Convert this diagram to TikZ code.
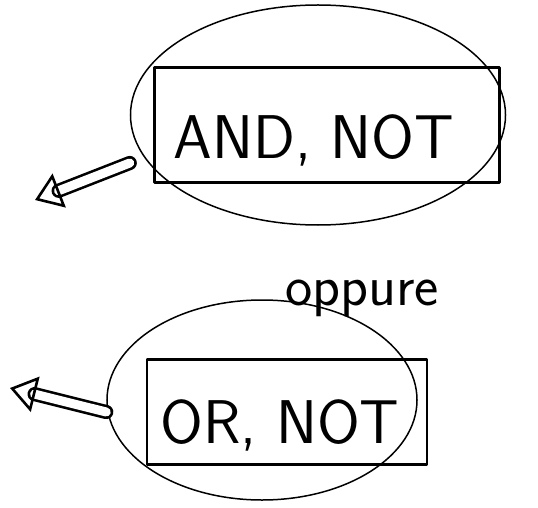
\documentclass[tikz,border=0pt]{standalone}
\usetikzlibrary{arrows.meta,shapes.geometric}
\begin{document}
\begin{tikzpicture}[x=1bp,y=-1bp,
  stroke/.style={line width=2.6bp, line cap=round, line join=round},
  thin stroke/.style={line width=1.5bp},
  blob/.style={ellipse, draw, thin stroke, inner sep=0pt},
  opbox/.style={rectangle, draw, stroke, inner sep=0pt},
  optext/.style={font=\sffamily\fontsize{62}{64}\selectfont, inner sep=0pt},
  bigarrow/.style={stroke, double, double distance=9bp, -{Triangle[open,length=26bp,width=36bp]}},
  note/.style={font=\sffamily\fontsize{58}{60}\selectfont, inner sep=0pt}]
\useasboundingbox (0,0) rectangle (538,508);
% top group
\node[blob, minimum width=375bp, minimum height=220bp] (e1) at (318,115) {};
\node[opbox, minimum width=345bp, minimum height=115bp] (b1) at (327,125) {};
\node[optext] (l1) at (314,140) {AND, NOT};
\coordinate (t1) at (35,200);
\draw[bigarrow] (e1.west |- 0,163) -- (t1);
% bottom group
\node[blob, minimum width=310bp, minimum height=200bp] (e2) at (262,400) {};
\node[opbox, minimum width=280bp, minimum height=105bp] (b2) at (287,412) {};
\node[optext] (l2) at (280,425) {OR, NOT};
\node[note] (op) at (362,298) {oppure};
\coordinate (t2) at (10,388);
\draw[bigarrow] (e2.west |- 0,412) -- (t2);
\end{tikzpicture}
\end{document}
